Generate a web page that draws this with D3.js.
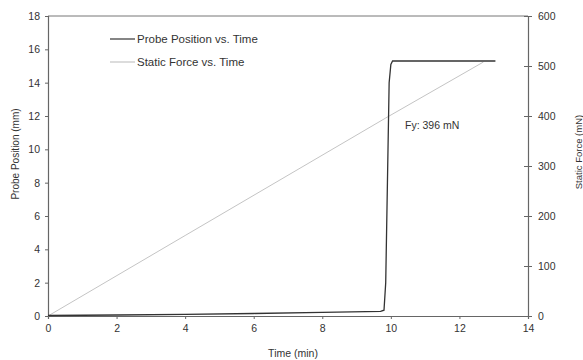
<!DOCTYPE html>
<html>
<head>
<meta charset="utf-8">
<script src="https://cdn.jsdelivr.net/npm/d3@7"></script>
<style>
  body { margin: 0; background: #fff; }
  text { font-family: "Liberation Sans", Arial, sans-serif; fill: #333; }
  .axis path, .axis line { stroke: #666; }
</style>
</head>
<body>
<div id="chart"></div>
<script>
// time (min) vs probe position (mm)
const probeTime = [0, 2, 4, 6, 8, 9.7, 9.8, 9.85, 9.9, 9.95, 10.0, 10.05, 13.05];
const probePos  = [0.03, 0.06, 0.1, 0.15, 0.22, 0.28, 0.35, 2, 8, 14, 15.1, 15.3, 15.3];
// time (min) vs static force (mN)
const forceTime = [0, 4, 9.85, 12.7];
const forceVal  = [0, 161, 396, 508];
const xTicks = [0, 2, 4, 6, 8, 10, 12, 14];
const yTicks = [0, 2, 4, 6, 8, 10, 12, 14, 16, 18];
const y2Ticks = [0, 100, 200, 300, 400, 500, 600];

const width = 583, height = 360;
const mLeft = 48, mRight = 528, mTop = 16, mBottom = 316;

const svg = d3.select('#chart').append('svg')
  .attr('width', width).attr('height', height);

const x = d3.scaleLinear().domain([0, 14]).range([mLeft, mRight]);
const y = d3.scaleLinear().domain([0, 18]).range([mBottom, mTop]);
const y2 = d3.scaleLinear().domain([0, 600]).range([mBottom, mTop]);

// top frame line
svg.append('line')
  .attr('x1', mLeft).attr('x2', mRight).attr('y1', mTop).attr('y2', mTop)
  .attr('stroke', '#777').attr('stroke-width', 1);

const xAxis = svg.append('g').attr('class', 'axis')
  .attr('transform', 'translate(0,' + mBottom + ')')
  .call(d3.axisBottom(x).tickValues(xTicks).tickSize(3).tickPadding(6));
xAxis.selectAll('text').attr('font-size', 10.5);

const yAxis = svg.append('g').attr('class', 'axis')
  .attr('transform', 'translate(' + mLeft + ',0)')
  .call(d3.axisLeft(y).tickValues(yTicks).tickSize(3).tickPadding(5));
yAxis.selectAll('text').attr('font-size', 10.5);

const y2Axis = svg.append('g').attr('class', 'axis')
  .attr('transform', 'translate(' + mRight + ',0)')
  .call(d3.axisRight(y2).tickValues(y2Ticks).tickSize(4).tickPadding(6));
y2Axis.selectAll('text').attr('font-size', 10.5);
y2Axis.selectAll('.tick line').attr('x1', -4);

svg.selectAll('.axis path').attr('stroke-width', 1.2);

// static force line
const forceLine = d3.line().x(d => x(d[0])).y(d => y2(d[1]));
svg.append('path')
  .datum(d3.zip(forceTime, forceVal))
  .attr('d', forceLine)
  .attr('fill', 'none')
  .attr('stroke', '#c4c4c4')
  .attr('stroke-width', 1);

// probe position line
const probeLine = d3.line().x(d => x(d[0])).y(d => y(d[1]));
svg.append('path')
  .datum(d3.zip(probeTime, probePos))
  .attr('d', probeLine)
  .attr('fill', 'none')
  .attr('stroke', '#333')
  .attr('stroke-width', 1.3);

// annotation
svg.append('text')
  .attr('x', 405).attr('y', 129)
  .attr('font-size', 10.5)
  .text('Fy: 396 mN');

// legend
const legend = [
  {label: 'Probe Position vs. Time', color: '#333', y: 39},
  {label: 'Static Force vs. Time', color: '#c4c4c4', y: 62}
];
legend.forEach(d => {
  svg.append('line')
    .attr('x1', 110).attr('x2', 135).attr('y1', d.y).attr('y2', d.y)
    .attr('stroke', d.color).attr('stroke-width', 1.2);
  svg.append('text')
    .attr('x', 137).attr('y', d.y + 4)
    .attr('font-size', 11.5)
    .text(d.label);
});

// axis titles
svg.append('text')
  .attr('x', 293).attr('y', 357)
  .attr('text-anchor', 'middle')
  .attr('font-size', 10.5)
  .text('Time (min)');

svg.append('text')
  .attr('transform', 'translate(19,154) rotate(-90)')
  .attr('text-anchor', 'middle')
  .attr('font-size', 10)
  .text('Probe Position (mm)');

svg.append('text')
  .attr('transform', 'translate(582,152) rotate(-90)')
  .attr('text-anchor', 'middle')
  .attr('font-size', 9.5)
  .text('Static Force (mN)');
</script>
</body>
</html>
